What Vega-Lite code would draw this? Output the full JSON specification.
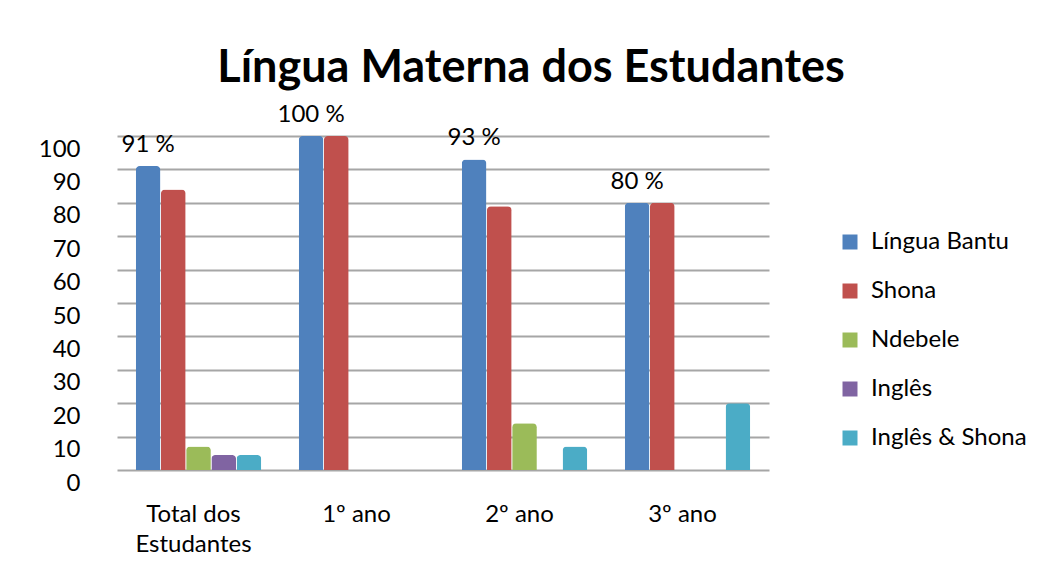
{
  "$schema": "https://vega.github.io/schema/vega-lite/v6.json",
  "autosize": "none",
  "width": 652,
  "height": 334,
  "padding": {"left": 117, "top": 136, "right": 271, "bottom": 106},
  "background": "white",
  "title": {
    "text": "Língua Materna dos Estudantes",
    "font": "Lato",
    "fontSize": 45,
    "fontWeight": "bold",
    "color": "#000000",
    "anchor": "middle",
    "dx": 88,
    "offset": 12
  },
  "data": {
    "values": [
      {"grupo": "Total dos Estudantes", "lingua": "Língua Bantu", "valor": 91},
      {"grupo": "Total dos Estudantes", "lingua": "Shona", "valor": 84},
      {"grupo": "Total dos Estudantes", "lingua": "Ndebele", "valor": 7},
      {"grupo": "Total dos Estudantes", "lingua": "Inglês", "valor": 4.5},
      {"grupo": "Total dos Estudantes", "lingua": "Inglês & Shona", "valor": 4.5},
      {"grupo": "1º ano", "lingua": "Língua Bantu", "valor": 100},
      {"grupo": "1º ano", "lingua": "Shona", "valor": 100},
      {"grupo": "1º ano", "lingua": "Ndebele", "valor": 0},
      {"grupo": "1º ano", "lingua": "Inglês", "valor": 0},
      {"grupo": "1º ano", "lingua": "Inglês & Shona", "valor": 0},
      {"grupo": "2º ano", "lingua": "Língua Bantu", "valor": 93},
      {"grupo": "2º ano", "lingua": "Shona", "valor": 79},
      {"grupo": "2º ano", "lingua": "Ndebele", "valor": 14},
      {"grupo": "2º ano", "lingua": "Inglês", "valor": 0},
      {"grupo": "2º ano", "lingua": "Inglês & Shona", "valor": 7},
      {"grupo": "3º ano", "lingua": "Língua Bantu", "valor": 80},
      {"grupo": "3º ano", "lingua": "Shona", "valor": 80},
      {"grupo": "3º ano", "lingua": "Ndebele", "valor": 0},
      {"grupo": "3º ano", "lingua": "Inglês", "valor": 0},
      {"grupo": "3º ano", "lingua": "Inglês & Shona", "valor": 20}
    ]
  },
  "encoding": {
    "x": {
      "field": "grupo",
      "type": "nominal",
      "sort": ["Total dos Estudantes", "1º ano", "2º ano", "3º ano"],
      "scale": {"paddingInner": 0.23, "paddingOuter": 0.115},
      "axis": {
        "title": null,
        "labelAngle": 0,
        "labelFont": "Lato",
        "labelFontSize": 24,
        "labelColor": "#000000",
        "labelPadding": 32,
        "labelOffset": -5,
        "labelLineHeight": 30,
        "labelBaseline": "top",
        "labelExpr": "datum.label == 'Total dos Estudantes' ? ['Total dos', 'Estudantes'] : datum.label",
        "domain": false,
        "ticks": false,
        "grid": false
      }
    },
    "y": {
      "field": "valor",
      "type": "quantitative",
      "scale": {"domain": [0, 100], "nice": false},
      "axis": {
        "title": null,
        "values": [0, 10, 20, 30, 40, 50, 60, 70, 80, 90, 100],
        "labelFont": "Lato",
        "labelFontSize": 24,
        "labelColor": "#000000",
        "labelPadding": 37,
        "labelOffset": 13,
        "domain": false,
        "ticks": false,
        "grid": true,
        "gridColor": "#A6A6A6",
        "gridWidth": 2
      }
    }
  },
  "layer": [
    {
      "mark": {"type": "bar", "cornerRadiusEnd": 4},
      "encoding": {
        "xOffset": {
          "field": "lingua",
          "type": "nominal",
          "sort": ["Língua Bantu", "Shona", "Ndebele", "Inglês", "Inglês & Shona"],
          "scale": {"paddingInner": 0.02}
        },
        "color": {
          "field": "lingua",
          "type": "nominal",
          "sort": ["Língua Bantu", "Shona", "Ndebele", "Inglês", "Inglês & Shona"],
          "scale": {
            "domain": ["Língua Bantu", "Shona", "Ndebele", "Inglês", "Inglês & Shona"],
            "range": ["#4F81BD", "#C0504D", "#9BBB59", "#8064A2", "#4BACC6"]
          },
          "legend": {
            "title": null,
            "orient": "none",
            "legendX": 721,
            "legendY": 94,
            "symbolType": "square",
            "symbolSize": 225,
            "symbolStrokeWidth": 0,
            "labelFont": "Lato",
            "labelFontSize": 24,
            "labelColor": "#000000",
            "labelOffset": 9,
            "rowPadding": 25
          }
        }
      }
    },
    {
      "transform": [
        {"filter": "datum.lingua == 'Língua Bantu'"},
        {"calculate": "datum.valor + ' %'", "as": "rotulo"}
      ],
      "mark": {"type": "text", "font": "Lato", "fontSize": 24, "baseline": "bottom", "dy": -9, "color": "#000000"},
      "encoding": {
        "xOffset": {
          "field": "lingua",
          "type": "nominal",
          "sort": ["Língua Bantu", "Shona", "Ndebele", "Inglês", "Inglês & Shona"]
        },
        "text": {"field": "rotulo"}
      }
    }
  ],
  "config": {"view": {"stroke": null}}
}
